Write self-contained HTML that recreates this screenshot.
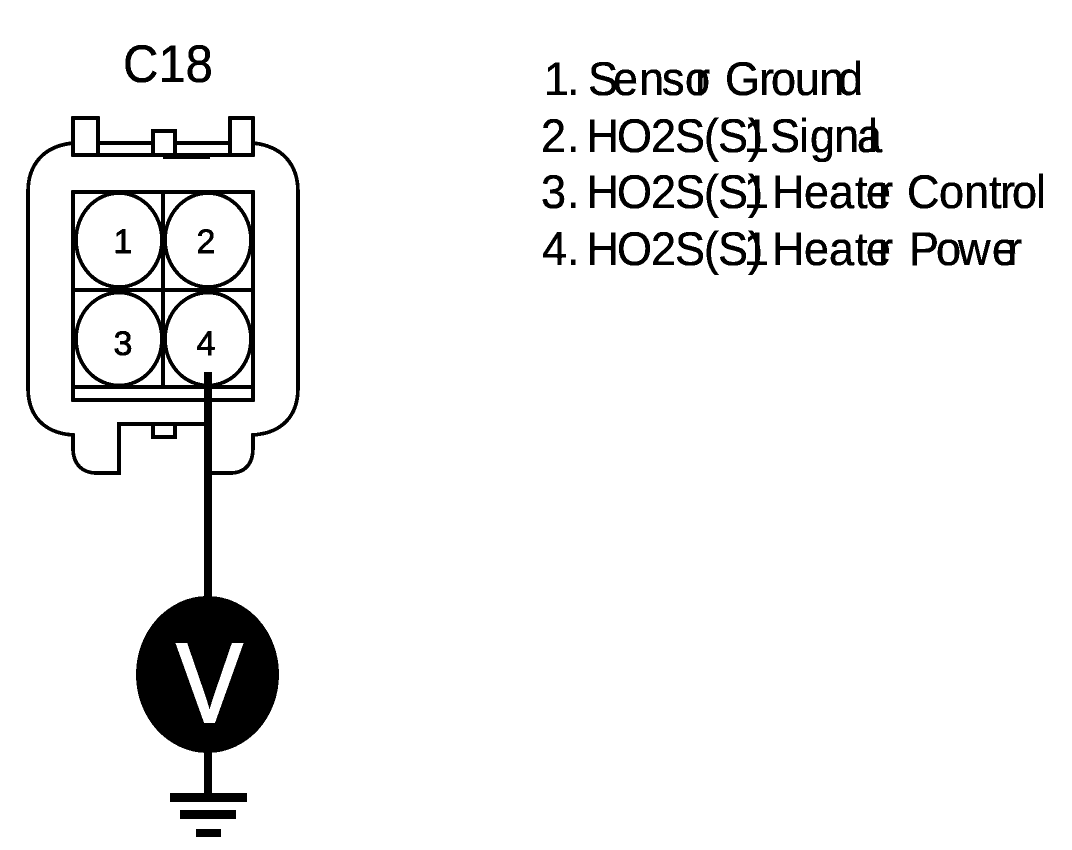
<!DOCTYPE html>
<html>
<head>
<meta charset="utf-8">
<style>
html,body{margin:0;padding:0;background:#fff;width:1072px;height:850px;overflow:hidden}
svg{display:block}
text{font-family:"Liberation Sans",sans-serif;fill:#000}
.t text{stroke:#000;stroke-width:.5}
.d text{stroke:#000;stroke-width:.8}
</style>
</head>
<body>
<svg width="1072" height="850" viewBox="0 0 1072 850" xmlns="http://www.w3.org/2000/svg">
<defs>
<filter id="bw" x="0" y="0" width="100%" height="100%" color-interpolation-filters="sRGB">
<feComponentTransfer>
<feFuncR type="discrete" tableValues="0 1"/>
<feFuncG type="discrete" tableValues="0 1"/>
<feFuncB type="discrete" tableValues="0 1"/>
</feComponentTransfer>
</filter>
</defs>
<g filter="url(#bw)">
<rect width="1072" height="850" fill="#fff"/>

<g class="t">
<text x="0" y="0" transform="translate(123,82) scale(1,1.08)" font-size="49">C18</text>
</g>

<g fill="none" stroke="#000" stroke-width="3.7">
<path d="M73 143 C44 146 28 164 28 192 V388 C28 416 44 433 73 435 V448 C73 464 82 473 97 473 H119 V424 H208 M208 473 H230 C245 473 253 464 253 448 V435 C282 433 298 416 298 388 V192 C298 164 282 146 253 143"/>
<path d="M97 143 H153 M175 143 H230"/>
<rect x="73" y="118" width="25" height="37"/>
<rect x="230" y="118" width="23" height="37"/>
<path d="M153 155 V131 H175 V155"/>
<path d="M73 155 H253"/>
<rect x="73" y="192" width="180" height="208"/>
<path d="M73 290 H253 M73 387 H253 M163 192 V387"/>
<ellipse cx="119" cy="240" rx="43" ry="47" fill="#fff"/>
<ellipse cx="208" cy="240" rx="43" ry="47" fill="#fff"/>
<ellipse cx="119" cy="339" rx="43" ry="46.5" fill="#fff"/>
<ellipse cx="208" cy="339" rx="43" ry="46.5" fill="#fff"/>
<path d="M153 424 V437 H175 V424"/>
</g>
<rect x="163" y="154" width="47" height="5" fill="#000"/>

<g class="d" font-size="34" text-anchor="middle">
<text x="123" y="253">1</text>
<text x="206" y="253">2</text>
<text x="123" y="355">3</text>
<text x="206" y="355">4</text>
</g>

<rect x="204" y="372" width="8" height="230" fill="#000"/>
<ellipse cx="207.5" cy="674.5" rx="71.5" ry="78.5" fill="#000"/>
<text x="0" y="0" transform="translate(209.5,722) scale(.88,1)" font-size="113" text-anchor="middle" style="fill:#fff;stroke:#fff;stroke-width:2">V</text>
<rect x="204" y="750" width="8" height="45" fill="#000"/>
<rect x="170" y="793" width="77" height="9" fill="#000"/>
<rect x="180" y="810" width="56" height="9" fill="#000"/>
<rect x="196" y="829" width="25" height="8" fill="#000"/>

<g class="t" font-size="45">
<g transform="translate(0,95) scale(1,1.05)">
<text y="0" x="544 567 588 613 639 662 685 695">1.Sensor</text>
<text y="0" x="725 759 771 795 819 838">Ground</text>
</g>
<g transform="translate(0,152) scale(1,1.05)">
<text y="0" x="541 567 586.5 617 651 675 704 718 748 744">2.HO2S(S)1</text>
<text y="0" x="770 799 810 834 857 868">Signal</text>
</g>
<g transform="translate(0,208) scale(1,1.05)">
<text y="0" x="541 567 586.5 617 651 675 704 718 748 744">3.HO2S(S)1</text>
<text y="0" x="772 804 829 855 866 878">Heater</text>
<text y="0" x="907 939 964 989 1000 1012 1036">Control</text>
</g>
<g transform="translate(0,265) scale(1,1.05)">
<text y="0" x="542 567 586.5 617 651 675 704 718 748 744">4.HO2S(S)1</text>
<text y="0" x="772 804 829 855 866 878">Heater</text>
<text y="0" x="909 936 958 992 1007">Power</text>
</g>
</g>
</g>
</svg>
</body>
</html>
